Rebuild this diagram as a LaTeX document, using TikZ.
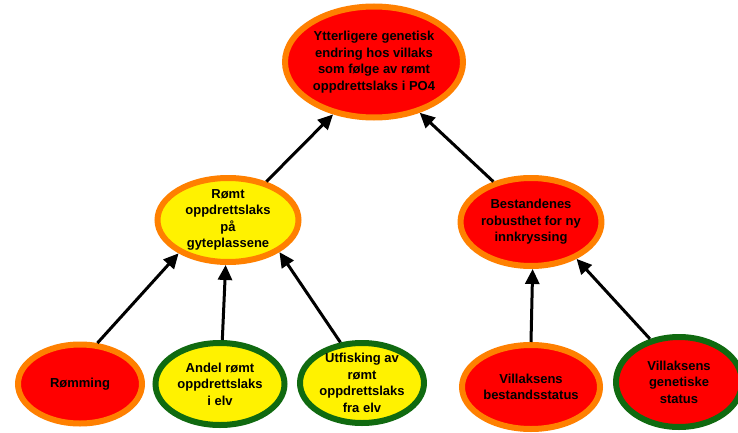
\documentclass[tikz,border=0pt]{standalone}
\usepackage{fontspec}
\setmainfont{Liberation Sans}
\usepackage{tikz}
\usepackage{xcolor}
\usetikzlibrary{positioning, arrows.meta, shapes}
\definecolor{nodered}{HTML}{FF0000}
\definecolor{nodeyellow}{HTML}{FFF200}
\definecolor{rimorange}{HTML}{FF8000}
\definecolor{rimgreen}{HTML}{106A10}

\begin{document}
\begin{tikzpicture}[x=1pt, y=-1pt, on grid,
    factor/.style={ellipse, line width=6pt, inner xsep=0pt, inner ysep=-2pt,
      align=center, text=black, font=\fontsize{13}{16.5}\selectfont\bfseries},
    redorange/.style={factor, fill=nodered, draw=rimorange},
    yelloworange/.style={factor, fill=nodeyellow, draw=rimorange},
    yellowgreen/.style={factor, fill=nodeyellow, draw=rimgreen},
    redgreen/.style={factor, fill=nodered, draw=rimgreen},
    link/.style={line width=3pt, black, -{Triangle[length=15pt, width=14pt]}}]
      \useasboundingbox (0,0) rectangle (738,433);
      \node[redorange, minimum width=178pt, minimum height=111pt] (top) at (374,62)
        {Ytterligere genetisk\\endring hos villaks\\som følge av rømt\\oppdrettslaks i PO4};
      \node[yelloworange, minimum width=141pt, minimum height=84pt,
        below left=158pt and 146pt of top] (rt) {Rømt\\oppdrettslaks\\på\\gyteplassene};
      \node[redorange, minimum width=136pt, minimum height=88pt,
        below right=160pt and 157pt of top] (best) {Bestandenes\\robusthet for ny\\innkryssing};
      \node[redorange, minimum width=124pt, minimum height=79pt,
        below left=164pt and 148pt of rt] (rom) {Rømming};
      \node[yellowgreen, minimum width=129pt, minimum height=82pt,
        right=140pt of rom] (and) {Andel rømt\\oppdrettslaks\\i elv};
      \node[yellowgreen, minimum width=124pt, minimum height=80pt,
        right=142pt of and, yshift=1pt] (utf) {Utfisking av\\rømt\\oppdrettslaks\\fra elv};
      \node[redorange, minimum width=138pt, minimum height=84pt,
        below=165pt of best] (vbs) {Villaksens\\bestandsstatus};
      \node[redgreen, minimum width=126pt, minimum height=90pt,
        right=148pt of vbs, yshift=5pt] (vgs) {Villaksens\\genetiske\\status};

      \draw (rom.67) edge[link] (rt.-146);
      \draw (and.87) edge[link] (rt.-93);
      \draw (utf.118) edge[link] (rt.-32);
      \draw (vbs.90) edge[link] (best.-88);
      \draw (vgs.124) edge[link] (best.-39);
      \draw (rt.45) edge[link] (top.-128);
      \draw (best.133) edge[link] (top.-48);
    \end{tikzpicture}
\end{document}
